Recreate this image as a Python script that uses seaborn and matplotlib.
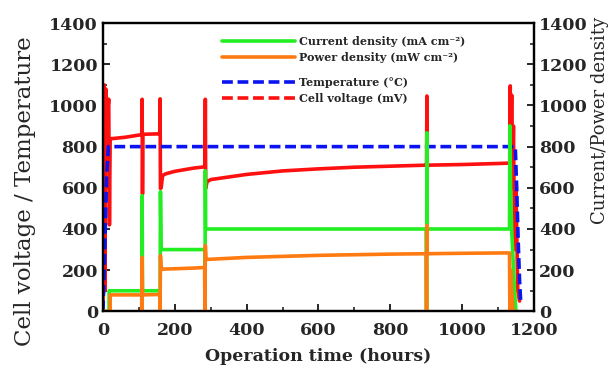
import matplotlib
matplotlib.use("Agg")
import matplotlib.pyplot as plt
from matplotlib.lines import Line2D
from matplotlib.ticker import MultipleLocator
import seaborn as sns

# ---- data (hours, value) ----
voltage_t = [0, 3, 5, 8, 12, 16, 18, 20, 60, 107, 108, 109, 110, 111, 157, 158, 159, 160, 162, 166,
             175, 200, 250, 283, 284, 285, 286, 290, 300, 400, 500, 600, 700, 800, 900, 901, 902, 903,
             905, 1000, 1100, 1132, 1133, 1134, 1136, 1138, 1140, 1143, 1146, 1150, 1155, 1160]
voltage_v = [30, 1100, 100, 1080, 950, 1030, 420, 838, 845, 858, 860, 1030, 570, 860, 862, 862, 1032, 597, 600, 660,
             668, 680, 695, 702, 702, 1030, 597, 630, 640, 665, 682, 692, 700, 705, 710, 710, 1046, 700,
             710, 713, 718, 720, 720, 1095, 700, 1050, 600, 900, 300, 600, 100, 50]

temp_t = [0, 5, 10, 15, 1148, 1152, 1156, 1160, 1163]
temp_v = [0, 300, 650, 800, 800, 600, 350, 150, 50]

current_t = [0, 17, 17, 108, 108, 109, 110, 158, 159, 160, 162, 284, 284, 285, 286, 900, 901, 902, 903,
             1132, 1133, 1135, 1138, 1142, 1146, 1150]
current_v = [0, 0, 100, 100, 0, 562, 100, 100, 0, 581, 300, 300, 0, 683, 400, 400, 0, 867, 400,
             400, 901, 600, 400, 250, 100, 0]

power_t = [0, 20, 20, 108, 108, 109, 110, 158, 159, 160, 162, 200, 250, 283, 284, 285, 287, 400, 600,
           800, 900, 901, 902, 903, 1000, 1132, 1133, 1135, 1138, 1142, 1155]
power_v = [0, 0, 80, 80, 0, 262, 80, 82, 0, 271, 205, 207, 210, 213, 0, 320, 252, 262, 272,
           278, 280, 0, 417, 280, 282, 284, 0, 200, 100, 0, 0]

x_ticks = [0, 200, 400, 600, 800, 1000, 1200]
y_ticks = [0, 200, 400, 600, 800, 1000, 1200, 1400]

labels_solid = ["Current density (mA cm\u207b\u00b2)", "Power density (mW cm\u207b\u00b2)"]
labels_dashed = ["Temperature (\u00b0C)", "Cell voltage (mV)"]

# ---- style ----
sns.set_theme(style="ticks")
plt.rcParams["font.family"] = ["DejaVu Serif"]
plt.rcParams["xtick.direction"] = "in"
plt.rcParams["ytick.direction"] = "in"

GREEN = "#22ee22"
ORANGE = "#ff7a10"
BLUE = "#0a14f0"
RED = "#ff1010"
LW = 2.6

fig = plt.figure(figsize=(6.13, 3.72), dpi=100)
ax1 = fig.add_axes([0.168, 0.163, 0.703, 0.775])
ax2 = ax1.twinx()

sns.lineplot(x=voltage_t, y=voltage_v, sort=False, estimator=None, color=RED, lw=LW, ax=ax1)
sns.lineplot(x=temp_t, y=temp_v, sort=False, estimator=None, color=BLUE, lw=LW, ax=ax1,
             dashes=False)
ax1.lines[-1].set_dashes((3, 1.3))
sns.lineplot(x=current_t, y=current_v, sort=False, estimator=None, color=GREEN, lw=LW, ax=ax2)
sns.lineplot(x=power_t, y=power_v, sort=False, estimator=None, color=ORANGE, lw=LW, ax=ax2)

for ax in (ax1, ax2):
    ax.set_xlim(0, 1200)
    ax.set_ylim(0, 1400)
    ax.set_yticks(y_ticks)
    ax.yaxis.set_minor_locator(MultipleLocator(100))
    ax.tick_params(which="major", length=5, width=1.4, labelsize=12.5)
    ax.tick_params(which="minor", length=3, width=1.2)
    for lab in ax.get_yticklabels():
        lab.set_fontweight("bold")
    for s in ax.spines.values():
        s.set_linewidth(1.6)
        s.set_color("black")

ax1.set_xticks(x_ticks)
ax1.xaxis.set_minor_locator(MultipleLocator(100))
ax1.tick_params(axis="x", pad=8)
for lab in ax1.get_xticklabels():
    lab.set_fontweight("bold")

ax1.set_xlabel("Operation time (hours)", fontsize=12.5, fontweight="bold", labelpad=6)
ax1.set_ylabel("")
ax2.set_ylabel("")
fig.text(0.040, 0.486, "Cell voltage / Temperature", rotation=90, fontsize=16.5,
         ha="center", va="center")
fig.text(0.978, 0.677, "Current/Power density", rotation=90, fontsize=13,
         ha="center", va="center")

solid_handles = [Line2D([], [], color=GREEN, lw=LW), Line2D([], [], color=ORANGE, lw=LW)]
dashed_handles = [Line2D([], [], color=BLUE, lw=LW, dashes=(3, 1.3)),
                  Line2D([], [], color=RED, lw=LW, dashes=(3, 1.3))]
leg_kw = dict(frameon=False, prop={"weight": "bold", "size": 8}, handlelength=6.6,
              handletextpad=0.35, labelspacing=0.45, borderaxespad=0, loc="upper left")
leg1 = ax2.legend(solid_handles, labels_solid, bbox_to_anchor=(0.355, 0.915),
                  bbox_transform=fig.transFigure, **leg_kw)
leg2 = ax2.legend(dashed_handles, labels_dashed, bbox_to_anchor=(0.355, 0.805),
                  bbox_transform=fig.transFigure, **leg_kw)
ax2.add_artist(leg1)

fig.savefig("out.png", dpi=100)
